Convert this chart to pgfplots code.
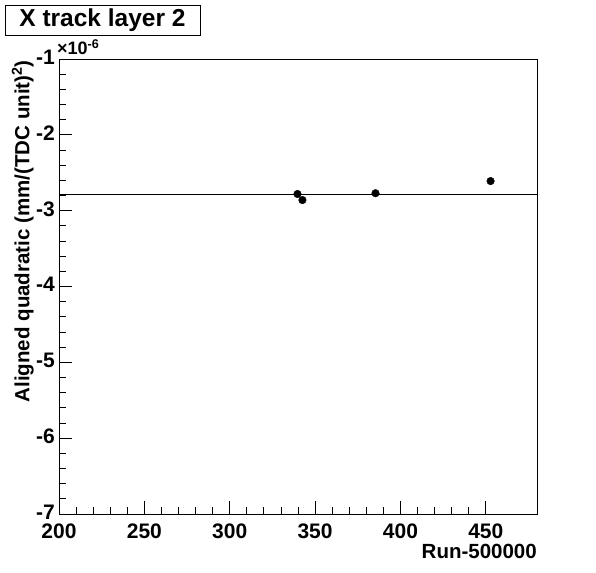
\documentclass[border=0pt]{standalone}
\usepackage{fontspec}
\setmainfont{Liberation Sans}
\usepackage{pgfplots}
\pgfplotsset{compat=1.18}
\begin{document}
\begin{tikzpicture}[x=1pt,y=1pt]
\useasboundingbox (0,0) rectangle (596,572);
\begin{axis}[at={(59pt,58pt)}, anchor=south west, scale only axis,
  width=478pt, height=455pt,
  xmin=200, xmax=480, ymin=-7, ymax=-1,
  xtick={200,250,300,350,400,450}, xticklabels={200,250,300,350,400,450},
  ytick={-7,-6,-5,-4,-3,-2,-1}, yticklabels={-7,-6,-5,-4,-3,-2,-1},
  minor x tick num=4, minor y tick num=4,
  tick align=inside, xtick pos=bottom, ytick pos=left,
  major tick length=13pt, minor tick length=6.5pt,
  axis line style={line width=0.8pt}, every tick/.style={black, line width=0.8pt},
  tick label style={font=\bfseries\fontsize{21}{21}\selectfont, inner sep=0pt},
  xticklabel style={yshift=-9pt, text height=15pt},
  yticklabel style={xshift=-4pt, text depth=0pt, text height=14pt, yshift=1.5pt},
]
\addplot[black, line width=0.8pt] coordinates {(200,-2.78) (480,-2.78)};
\addplot[only marks, mark=*, mark size=3.8pt, black] coordinates {
(339.7,-2.78) (342.6,-2.86) (385.4,-2.77) (452.8,-2.61)};
\end{axis}
\node[draw, line width=0.8pt, minimum width=195pt, minimum height=30pt, inner sep=0pt,
  font=\bfseries\fontsize{24.5}{24.5}\selectfont] at (102.5,552) {X track layer 2};
\node[anchor=south west, inner sep=0pt, font=\bfseries\fontsize{18}{18}\selectfont] at (57,517) {×10\textsuperscript{-6}};
\node[rotate=90, anchor=south east, inner sep=0pt, font=\bfseries\fontsize{20.5}{20.5}\selectfont] at (34,512) {Aligned quadratic (mm/(TDC unit)\textsuperscript{2})};
\node[anchor=north east, inner sep=0pt, font=\bfseries\fontsize{20.5}{20.5}\selectfont] at (537,28) {Run-500000};
\end{tikzpicture}
\end{document}
